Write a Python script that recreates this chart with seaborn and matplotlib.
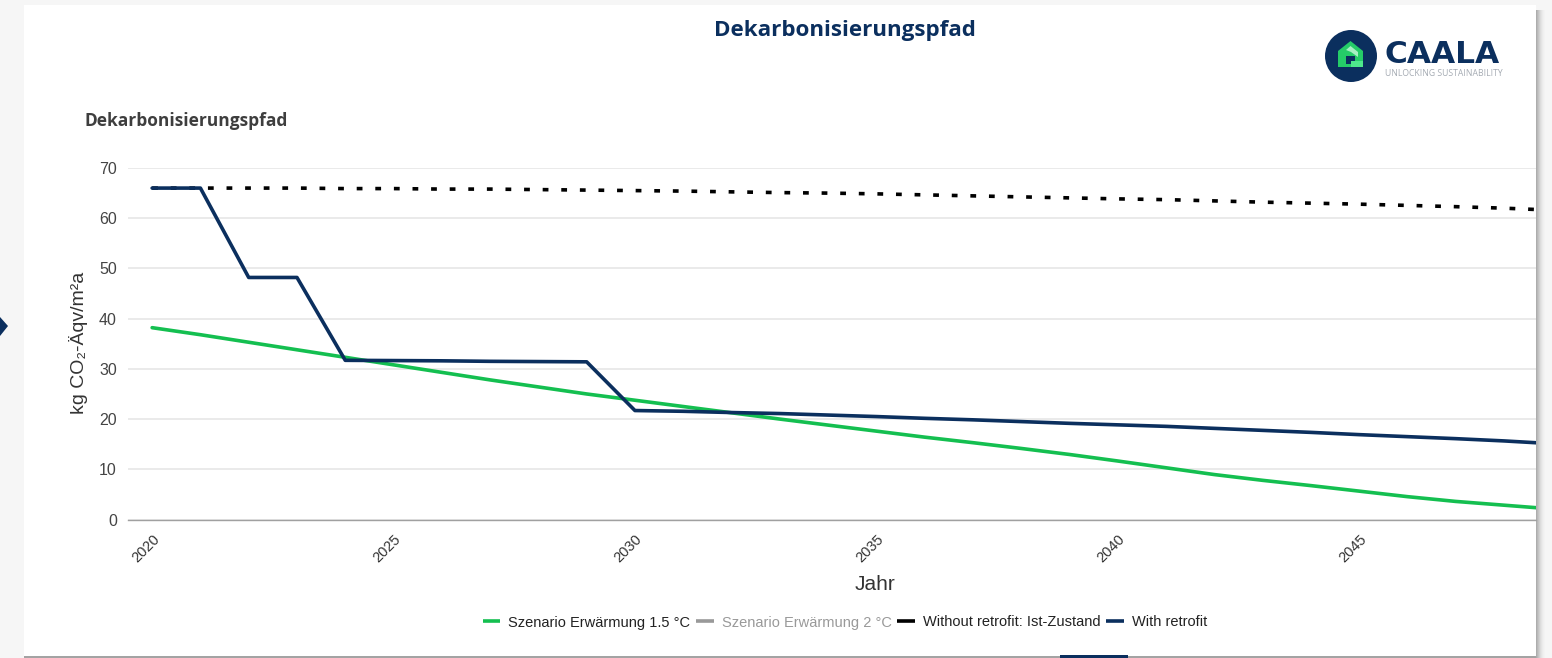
import pandas as pd
import seaborn as sns
import matplotlib.pyplot as plt
from matplotlib.lines import Line2D
from matplotlib.patches import Circle, Polygon, Rectangle

# DATA
years = list(range(2020, 2050))
green_15 = [38.2, 36.8, 35.3, 33.8, 32.3, 30.8, 29.3, 27.8, 26.4, 25.0,
            23.75, 22.5, 21.25, 20.0, 18.8, 17.6, 16.4, 15.3, 14.15, 12.95,
            11.65, 10.3, 8.95, 7.8, 6.75, 5.65, 4.55, 3.6, 2.85, 2.1]
no_retrofit = [66.0, 66.0, 66.0, 66.0, 65.9, 65.9, 65.8, 65.8, 65.7, 65.6,
               65.5, 65.4, 65.25, 65.1, 65.0, 64.85, 64.65, 64.45, 64.25, 64.05,
               63.85, 63.7, 63.45, 63.2, 63.0, 62.8, 62.55, 62.3, 62.0, 61.6]
with_retrofit = [66.0, 66.0, 48.2, 48.2, 31.7, 31.65, 31.6, 31.5, 31.45, 31.4,
                 21.7, 21.55, 21.3, 21.1, 20.8, 20.5, 20.15, 19.85, 19.5, 19.15,
                 18.85, 18.55, 18.15, 17.75, 17.35, 16.9, 16.5, 16.1, 15.65, 15.1]
series_names = ['Szenario Erwärmung 1.5 °C', 'Szenario Erwärmung 2 °C',
                'Without retrofit: Ist-Zustand', 'With retrofit']
y_ticks = [0, 10, 20, 30, 40, 50, 60, 70]
x_labels = [2020, 2025, 2030, 2035, 2040, 2045]

GREEN = '#14bf50'
NAVY = '#0b2f5e'

df = pd.DataFrame({'year': years * 3,
                   'value': green_15 + no_retrofit + with_retrofit,
                   'series': [series_names[0]] * 30 + [series_names[2]] * 30 + [series_names[3]] * 30})

sns.set_theme(style='white')
plt.rcParams['font.family'] = ['Liberation Sans', 'DejaVu Sans']

fig = plt.figure(figsize=(15.52, 6.58), dpi=100, facecolor='#f6f6f6')

# page furniture in pixel coordinates
bg = fig.add_axes([0, 0, 1, 1], zorder=0)
bg.set_xlim(0, 1552)
bg.set_ylim(658, 0)
bg.axis('off')
for i, a in enumerate([0.5, 0.42, 0.34, 0.26, 0.18, 0.12, 0.07, 0.04, 0.02]):
    bg.add_patch(Rectangle((1536 + i, 10), 1, 648, color='#666666', alpha=a, lw=0))
bg.add_patch(Rectangle((24, 5), 1512, 651, color='white', lw=0))
bg.add_patch(Rectangle((24, 655.5), 1512, 2.5, color='#a3a3a3', lw=0))
bg.add_patch(Rectangle((1060, 655), 68, 3, color=NAVY, lw=0))
bg.add_patch(Polygon([(0, 317), (8, 326), (0, 336)], color=NAVY, lw=0))

# logo
bg.add_patch(Circle((1351, 56), 26, color=NAVY, lw=0))
bg.add_patch(Polygon([(1338, 67), (1338, 51), (1350.5, 41), (1363, 51), (1363, 67)], color='#25cc68', lw=0))
bg.add_patch(Polygon([(1346, 50), (1350.5, 46), (1358, 52), (1358, 57), (1351, 52)], color='#a8f0c4', lw=0))
bg.add_patch(Rectangle((1351, 61), 12, 6, color='#4ee88c', lw=0))
bg.add_patch(Rectangle((1346, 56), 9, 5, color=NAVY, lw=0))
bg.add_patch(Rectangle((1346, 61), 5, 3, color=NAVY, lw=0))
bg.text(1384, 54.5, 'CAALA', fontsize=22.5, fontweight='bold', family='DejaVu Sans', color=NAVY, va='center')
bg.text(1385, 73.5, 'UNLOCKING SUSTAINABILITY', fontsize=6.2, family='Open Sans', color='#a5abb3', va='center')

bg.text(845, 30.5, 'Dekarbonisierungspfad', fontsize=16.1, fontweight='bold', family='Open Sans',
        color=NAVY, ha='center', va='center')
bg.text(85, 120.5, 'Dekarbonisierungspfad', fontsize=12.5, fontweight='bold', family='Open Sans',
        color='#3e3e3e', va='center')

# chart, clipped at the card edge like the reference
ax = fig.add_axes([128 / 1552, 1 - 519.5 / 658, 1408 / 1552, 351.5 / 658], zorder=1)
ax.patch.set_alpha(0)

sns.lineplot(data=df, x='year', y='value', hue='series',
             hue_order=[series_names[0], series_names[2], series_names[3]],
             palette=[GREEN, 'black', NAVY], linewidth=2.6, legend=False, ax=ax)
ax.lines[1].set_linestyle((0, (1.6, 3.55)))

ax.set_xlim(2019.5, 2019.5 + 1408 / 48.28)
ax.set_ylim(0, 70)
ax.set_yticks(y_ticks)
ax.set_xticks(x_labels)
ax.set_xticklabels(x_labels, rotation=45, ha='right', rotation_mode='anchor', fontsize=10.5, color='#333333')
ax.set_xticks([y - 0.5 for y in years], minor=True)
ax.tick_params(axis='x', which='major', length=0, pad=9)
ax.tick_params(axis='x', which='minor', length=5, width=1, color='#a8a8a8')
ax.tick_params(axis='y', length=0, pad=8, labelsize=11.5, labelcolor='#444444')
ax.grid(axis='y', color='#e8e8e8', linewidth=1.3)
ax.set_axisbelow(True)
for side in ['top', 'right', 'left']:
    ax.spines[side].set_visible(False)
ax.spines['bottom'].set_color('#a0a0a0')
ax.spines['bottom'].set_linewidth(1)

ax.set_ylabel('kg CO₂-Äqv/m²a', fontsize=14, color='#333333')
ax.yaxis.set_label_coords((88 - 128) / 1408, 0.503)
ax.set_xlabel('Jahr', fontsize=15, color='#333333')
ax.xaxis.set_label_coords((875 - 128) / 1408, -(584 - 519.5) / 351.5)
ax.xaxis.label.set_verticalalignment('center')

handles = [Line2D([], [], color=c, linewidth=2.6, solid_capstyle='butt') for c in [GREEN, '#999999', 'black', NAVY]]
leg = fig.legend(handles, series_names, loc='center', bbox_to_anchor=(845 / 1552, 1 - 622.5 / 658),
                 ncol=4, frameon=False, fontsize=10.5, handlelength=1.2, handletextpad=0.55,
                 columnspacing=0.4, borderpad=0)
for t, c in zip(leg.get_texts(), ['#222222', '#999999', '#222222', '#222222']):
    t.set_color(c)

fig.savefig('out.png', dpi=100, facecolor=fig.get_facecolor())
